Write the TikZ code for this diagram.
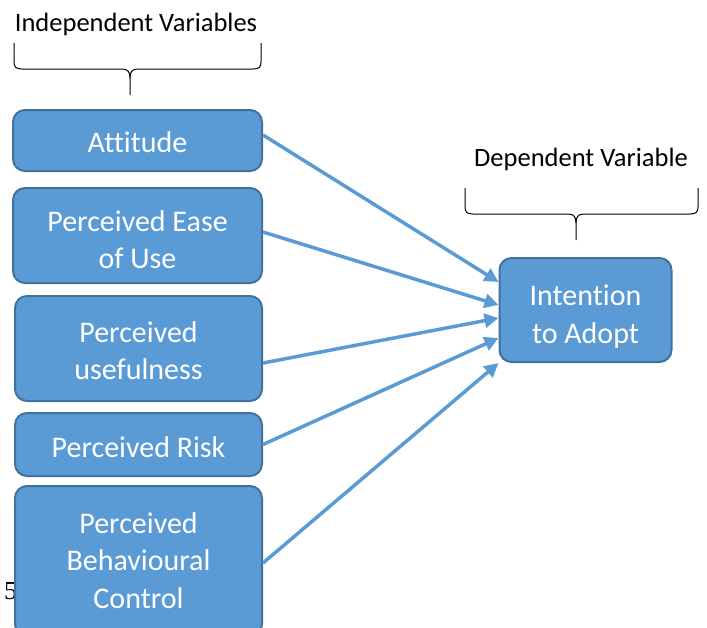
\documentclass[tikz,border=0pt]{standalone}
\usepackage{fontspec}
\setmainfont[Ligatures=NoCommon]{Carlito}
\newfontfamily\numfont{Liberation Serif}
\usetikzlibrary{arrows.meta,calc}
\definecolor{boxfill}{HTML}{5B9BD5}
\definecolor{boxline}{HTML}{41719C}
\newcommand\boxtext[2]{\raisebox{#1}[\height][\depth]{\begin{tabular}{@{}c@{}}#2\end{tabular}}}
\begin{document}
\begin{tikzpicture}[x=1pt,y=-1pt,
 vbox/.style={draw=boxline,fill=boxfill,line width=2pt,rounded corners=12pt,text=white,font=\fontsize{30}{37.5}\selectfont,align=center,inner sep=0pt},
 lab/.style={font=\fontsize{26.5}{31}\selectfont,text=black,inner sep=0pt},
 link/.style={draw=boxfill,line width=3.5pt,-{Triangle[length=14pt,width=14pt]}},
 brace/.style={draw=black,line width=1pt}]
\useasboundingbox (0,0) rectangle (707,627);
\clip (0,0) rectangle (707,627);
\node[font=\numfont\fontsize{26}{30}\selectfont,anchor=base west,inner sep=0pt] (five) at (4,599) {5};
\node[lab] (indep) at (136,24) {Independent Variables};
\node[lab] (dep) at (581,159) {Dependent Variable};
\draw[brace] (14,43) -- (14,62) .. controls (14,67) and (16,69) .. (22,69) -- (122,69) .. controls (128,69) and (130,72) .. (130,78) -- (130,95);
\draw[brace] (261,43) -- (261,62) .. controls (261,67) and (259,69) .. (253,69) -- (138,69) .. controls (132,69) and (130,72) .. (130,78);
\draw[brace] (465,188) -- (465,207) .. controls (465,212) and (467,214) .. (473,214) -- (568,214) .. controls (574,214) and (576,217) .. (576,223) -- (576,240);
\draw[brace] (698,188) -- (698,207) .. controls (698,212) and (696,214) .. (690,214) -- (584,214) .. controls (578,214) and (576,217) .. (576,223);
\node[vbox,minimum width=249pt,minimum height=61pt] (att) at (137.5,140.5) {\boxtext{-4pt}{Attitude}};
\node[vbox,minimum width=249pt,minimum height=95pt] (ease) at (137.5,235.5) {\boxtext{-7pt}{Perceived Ease\\of Use}};
\node[vbox,minimum width=247pt,minimum height=105pt] (use) at (138.5,348.5) {\boxtext{-5pt}{Perceived\\usefulness}};
\node[vbox,minimum width=247pt,minimum height=63pt] (risk) at (138.5,444.5) {\boxtext{-5pt}{Perceived Risk}};
\node[vbox,minimum width=247pt,minimum height=150pt] (pbc) at (138.5,561) {\boxtext{-2pt}{Perceived\\Behavioural\\Control}};
\node[vbox,minimum width=172pt,minimum height=104pt] (int) at (585.5,310) {\boxtext{-7pt}{Intention\\to Adopt}};
\draw[link] ($(att.east)+(0,-5.5)$) -- ($(int.west)+(0,-28)$);
\draw[link] ($(ease.east)+(0,-3.5)$) -- ($(int.west)+(0,-5)$);
\draw[link] ($(use.east)+(0,14.5)$) -- ($(int.west)+(0,8)$);
\draw[link] (risk.east) -- ($(int.west)+(0,28)$);
\draw[link] ($(pbc.east)+(0,2)$) -- ($(int.west)+(0,53)$);
\end{tikzpicture}
\end{document}
